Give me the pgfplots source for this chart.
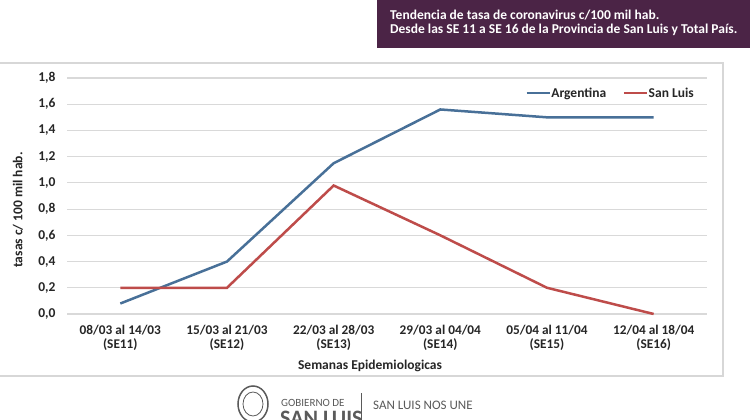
\documentclass[border=0pt]{standalone}
\usepackage{fontspec}
\setmainfont{Carlito}
\usepackage{pgfplots}
\pgfplotsset{compat=1.18}
\definecolor{titlepurple}{RGB}{75,36,70}
\definecolor{framegray}{RGB}{215,215,215}
\definecolor{gridgray}{RGB}{217,217,217}
\definecolor{argblue}{RGB}{72,112,152}
\definecolor{slred}{RGB}{190,76,74}
\definecolor{footgray}{RGB}{90,90,90}
\begin{document}
\begin{tikzpicture}[x=1pt,y=1pt]
\useasboundingbox (0,0) rectangle (750,420);
\clip (0,0) rectangle (750,420);
\fill[white] (0,0) rectangle (750,420);
% chart frame
\draw[framegray, line width=1.2pt] (-2,357) -- (723,357) -- (723,44) -- (-2,44);
% title box
\fill[titlepurple] (377,372) rectangle (752,422);
\node[anchor=west, text=white, font=\fontsize{13.5}{15}\selectfont\bfseries, inner sep=0pt] at (390,405) {Tendencia de tasa de coronavirus c/100 mil hab.};
\node[anchor=west, text=white, font=\fontsize{13.5}{15}\selectfont\bfseries, inner sep=0pt] at (390,390) {Desde las SE 11 a SE 16 de la Provincia de San Luis y Total País.};
\begin{axis}[
  at={(67pt,106pt)}, anchor=south west, scale only axis,
  width=640pt, height=236pt,
  xmin=-0.5, xmax=5.5, ymin=0, ymax=1.8,
  axis line style={draw=none},
  major tick length=0,
  xtick={0,1,2,3,4,5},
  xticklabels={{08/03 al 14/03\\(SE11)},{15/03 al 21/03\\(SE12)},{22/03 al 28/03\\(SE13)},{29/03 al 04/04\\(SE14)},{05/04 al 11/04\\(SE15)},{12/04 al 18/04\\(SE16)}},
  xticklabel style={align=center, font=\fontsize{13.3}{13.8}\selectfont\bfseries, text=black!85, yshift=-8pt},
  ytick={0,0.2,0.4,0.6,0.8,1.0,1.2,1.4,1.6,1.8},
  yticklabel style={font=\fontsize{13.5}{15}\selectfont\bfseries, text=black!85, xshift=-8pt},
  /pgf/number format/assume math mode=true,
  /pgf/number format/.cd, use comma, fixed, fixed zerofill, precision=1, /pgfplots/.cd,
  ymajorgrids,
  major grid style={gridgray, line width=1.2pt},
  clip=false,
  legend columns=2,
  legend style={at={(0.985,0.936)}, anchor=east, draw=none, fill=none,
    font=\fontsize{13.5}{15}\selectfont\bfseries, text=black!85,
    nodes={inner xsep=0.5pt},
    /tikz/every even column/.append style={column sep=16pt}},
  legend image code/.code={\draw[#1] (0pt,0pt) -- (23pt,0pt);},
]
\addplot[argblue, line width=2.5pt] coordinates {(0,0.08) (1,0.40) (2,1.15) (3,1.56) (4,1.50) (5,1.50)};
\addlegendentry{Argentina}
\addplot[slred, line width=2.5pt] coordinates {(0,0.20) (1,0.20) (2,0.98) (3,0.60) (4,0.20) (5,0.00)};
\addlegendentry{San Luis}
\end{axis}
% axis titles
\node[rotate=90, font=\fontsize{13.5}{15}\selectfont\bfseries, text=black!85] at (18,210) {tasas c/ 100 mil hab.};
\node[font=\fontsize{13.5}{15}\selectfont\bfseries, text=black!85] at (370,54) {Semanas Epidemiologicas};
% footer
\draw[footgray, line width=1.5pt] (253,16) ellipse (15 and 18);
\draw[footgray, line width=0.8pt] (253,16) ellipse (10 and 12);
\node[anchor=west, inner sep=0pt, text=footgray, font=\fontsize{11}{12}\selectfont] at (281,17) {GOBIERNO DE};
\node[anchor=north west, inner sep=0pt, text=footgray, font=\fontsize{22}{24}\selectfont\bfseries] at (280,9) {SAN LUIS};
\draw[footgray, line width=0.8pt] (361,0) -- (361,27);
\node[anchor=west, inner sep=0pt, text=footgray, font=\fontsize{13}{14}\selectfont] at (373,15) {SAN LUIS NOS UNE};
\end{tikzpicture}
\end{document}
